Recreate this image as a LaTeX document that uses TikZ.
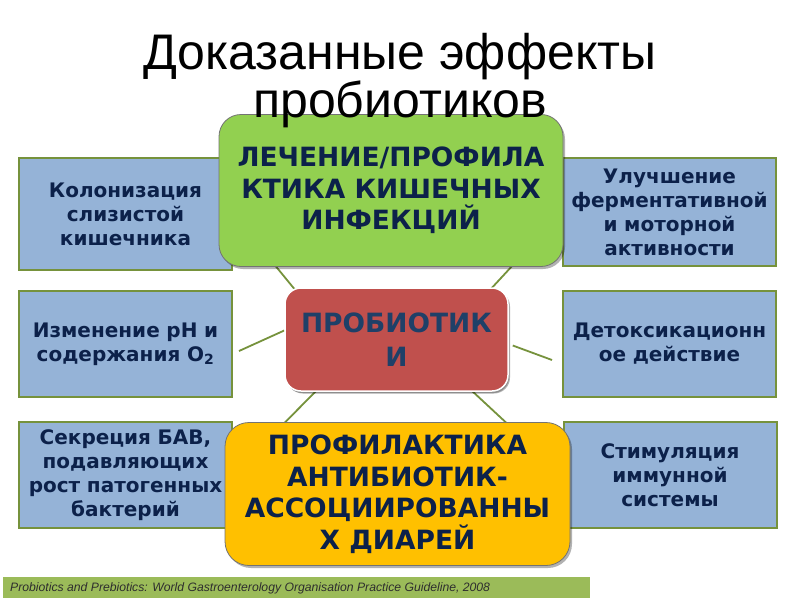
\documentclass[tikz,border=0pt]{standalone}
\usepackage{fontspec}
\setmainfont{DejaVu Sans}
\newfontfamily\titlefont{Liberation Sans}
\usetikzlibrary{calc,shadows}
\definecolor{boxblue}{HTML}{95B3D7}
\definecolor{boxedge}{HTML}{76923C}
\definecolor{navy}{HTML}{0C214A}
\definecolor{gfill}{HTML}{92D050}
\definecolor{rfill}{HTML}{C0504D}
\definecolor{yfill}{HTML}{FFC000}
\definecolor{rtext}{HTML}{1F4068}
\definecolor{footbar}{HTML}{9BBB59}
\definecolor{foottext}{HTML}{2E2E2E}
\pgfdeclarelayer{bg}
\pgfdeclarelayer{paper}
\pgfsetlayers{paper,bg,main}
\tikzset{
 smallbox/.style={draw=boxedge, line width=2pt, fill=boxblue, minimum width=213pt, text width=208pt, align=center, font=\fontsize{20}{24}\selectfont\bfseries, text=navy, inner sep=0pt},
 bigbox/.style={draw=black!55, line width=0.8pt, align=center, text=navy, inner sep=0pt, drop shadow={shadow xshift=2pt, shadow yshift=-2.5pt, fill=black, opacity=0.3}},
 conn/.style={draw=boxedge, line width=1.8pt},
}
\begin{document}
\begin{tikzpicture}[x=1pt,y=-1pt]
\begin{pgfonlayer}{paper}
\useasboundingbox[fill=white] (0,0) rectangle (800,600);
\end{pgfonlayer}
% side boxes
\node[smallbox, minimum height=112pt] (b1) at (125.5,214) {Колонизация\\слизистой\\кишечника};
\node[smallbox, minimum height=108pt] (b2) at (669.5,212) {Улучшение\\ферментативной\\и моторной\\активности};
\node[smallbox, minimum height=106pt] (b3) at (125.5,344) {Изменение pH и\\содержания O\textsubscript{2}};
\node[smallbox, minimum height=106pt] (b4) at (669.5,344) {Детоксикационн\\ое действие};
\node[smallbox, minimum height=106pt] (b5) at (125.5,475) {Секреция БАВ,\\подавляющих\\рост патогенных\\бактерий};
\node[smallbox, minimum height=106pt] (b6) at (670,475) {Стимуляция\\иммунной\\системы};
% main boxes
\node[bigbox, fill=gfill, rounded corners=22pt, minimum width=344pt, minimum height=152pt, font=\fontsize{26.5}{31.5}\selectfont\bfseries] (green) at (391,190.5) {ЛЕЧЕНИЕ/ПРОФИЛА\\КТИКА КИШЕЧНЫХ\\ИНФЕКЦИЙ};
\node[bigbox, fill=yfill, rounded corners=24pt, minimum width=345pt, minimum height=143pt, font=\fontsize{26.5}{31.5}\selectfont\bfseries] (yellow) at (397.5,494) {ПРОФИЛАКТИКА\\АНТИБИОТИК-\\АССОЦИИРОВАННЫ\\Х ДИАРЕЙ};
\node[bigbox, draw=white, line width=1.5pt, fill=rfill, rounded corners=16pt, minimum width=223pt, minimum height=103pt, text=rtext, font=\fontsize{26.5}{34}\selectfont\bfseries, drop shadow={shadow xshift=1pt, shadow yshift=-2pt, fill=black, opacity=0.2}] (red) at (396.5,339.5) {ПРОБИОТИК\\И};
% connectors
\begin{pgfonlayer}{bg}
\draw[conn] ($(red.north west)+(12,4)$) -- (b1.east);
\draw[conn] ($(red.north east)+(-20,4)$) -- (b2.west);
\draw[conn] ($(red.west)+(0,-9)$) -- ($(b3.east)+(6,7)$);
\draw[conn] ($(red.east)+(4,6)$) -- ($(b4.west)+(-10,16)$);
\draw[conn] ($(red.south west)+(35,-4)$) -- (b5.east);
\draw[conn] ($(red.south east)+(-38,-2)$) -- (b6.west);
\end{pgfonlayer}
% footer
\node[fill=footbar, minimum width=587pt, minimum height=21pt, anchor=north west, inner sep=0pt] (foot) at (3,577) {};
\node[anchor=west, inner sep=0pt, text=foottext, font=\titlefont\itshape\fontsize{12.2}{14}\selectfont] (ref) at (10,588) {Probiotics and Prebiotics: World Gastroenterology Organisation Practice Guideline, 2008};
% title
\node[font=\titlefont\fontsize{50}{48}\selectfont, align=center, inner sep=0pt] (title) at (400,81) {Доказанные эффекты\\пробиотиков};
\end{tikzpicture}
\end{document}
